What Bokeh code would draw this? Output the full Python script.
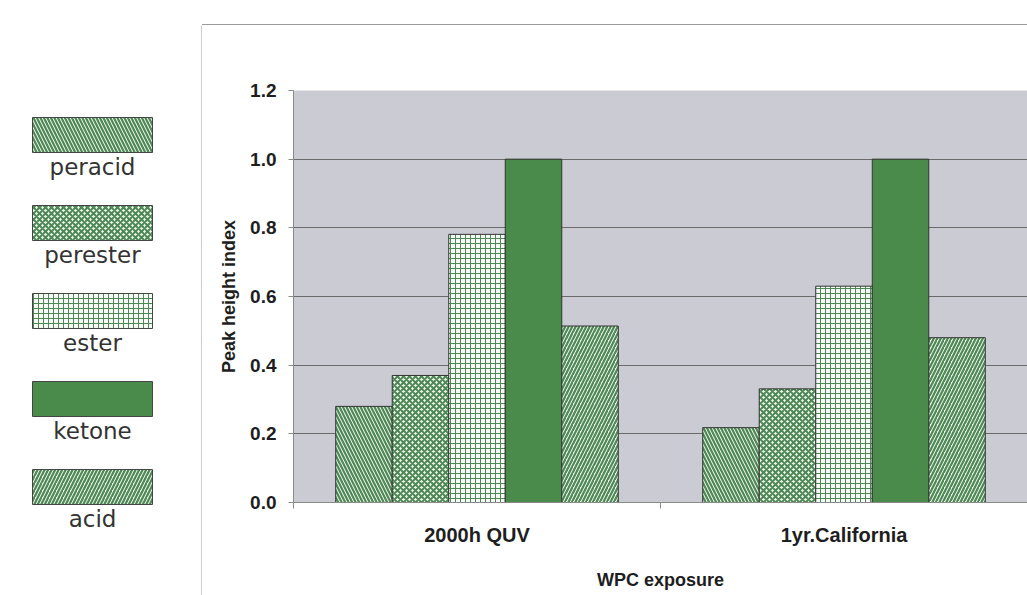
from bokeh.plotting import figure
from bokeh.models import Range1d, FixedTicker, ColumnDataSource, Spacer, NumeralTickFormatter
from bokeh.layouts import row, column
from bokeh.core.properties import value
from bokeh.embed import file_html
from bokeh.resources import INLINE

# ---------------- data ----------------
categories = ["2000h QUV", "1yr.California"]
series = ["peracid", "perester", "ester", "ketone", "acid"]
peracid = [0.280, 0.218]
perester = [0.370, 0.331]
ester = [0.781, 0.630]
ketone = [1.000, 1.000]
acid = [0.514, 0.480]
values = [peracid, perester, ester, ketone, acid]
y_ticks = [0.0, 0.2, 0.4, 0.6, 0.8, 1.0, 1.2]
x_title = "WPC exposure"
y_title = "Peak height index"

# ---------------- styles ----------------
LIGHT = "#eef9ec"
HATCH = "#4f8757"
KETONE = "#4a8b4c"
styles = {
    "peracid": dict(fill_color=LIGHT, hatch_pattern="\\", hatch_color=HATCH, hatch_scale=7, hatch_weight=2.2),
    "perester": dict(fill_color=LIGHT, hatch_pattern="x", hatch_color=HATCH, hatch_scale=6, hatch_weight=2),
    "ester": dict(fill_color="#f6fcf5", hatch_pattern="+", hatch_color=HATCH, hatch_scale=5, hatch_weight=1),
    "ketone": dict(fill_color=KETONE),
    "acid": dict(fill_color=LIGHT, hatch_pattern="/", hatch_color=HATCH, hatch_scale=7, hatch_weight=2.2),
}
BAR_W = 0.154
BOLD = "Liberation Sans"

# ---------------- main chart ----------------
p = figure(width=825, height=570, output_backend="svg", toolbar_location=None,
           x_range=Range1d(0, len(categories)), y_range=Range1d(0, 1.2),
           min_border_left=91, min_border_top=65, min_border_bottom=93, min_border_right=0)
p.background_fill_color = "#cbcbd3"
p.border_fill_color = "white"
p.outline_line_color = None

centers = [i + 0.5 for i in range(len(categories))]
for k, name in enumerate(series):
    xs = [c + (k - (len(series) - 1) / 2) * BAR_W for c in centers]
    src = ColumnDataSource(dict(x=xs, top=values[k], cat=categories))
    p.vbar(x="x", top="top", bottom=0, width=BAR_W, source=src,
           line_color="#333333", line_width=1, **styles[name])

# y axis
p.yaxis.ticker = FixedTicker(ticks=y_ticks, minor_ticks=[])
p.yaxis.formatter = NumeralTickFormatter(format="0.0")
p.yaxis.axis_line_color = "#8a8a8a"
p.yaxis.major_tick_line_color = "#8a8a8a"
p.yaxis.major_tick_out = 5
p.yaxis.major_tick_in = 0
p.yaxis.major_label_text_font = BOLD
p.yaxis.major_label_text_font_style = "bold"
p.yaxis.major_label_text_font_size = "19px"
p.yaxis.major_label_text_color = "#1e1e1e"
p.yaxis.major_label_standoff = 12
p.yaxis.axis_label = y_title
p.yaxis.axis_label_text_font = BOLD
p.yaxis.axis_label_text_font_style = "bold"
p.yaxis.axis_label_text_font_size = "18px"
p.yaxis.axis_label_text_color = "#1e1e1e"
p.yaxis.axis_label_standoff = 8

# x axis: labels at category centres, ticks at boundaries
p.xaxis.ticker = FixedTicker(ticks=centers, minor_ticks=list(range(len(categories) + 1)))
p.xaxis.major_label_overrides = {c: lab for c, lab in zip(centers, categories)}
p.xaxis.axis_line_color = "#8a8a8a"
p.xaxis.major_tick_line_color = None
p.xaxis.major_tick_out = 0
p.xaxis.major_tick_in = 0
p.xaxis.minor_tick_line_color = "#8a8a8a"
p.xaxis.minor_tick_out = 6
p.xaxis.minor_tick_in = 0
p.xaxis.major_label_text_font = BOLD
p.xaxis.major_label_text_font_style = "bold"
p.xaxis.major_label_text_font_size = "20px"
p.xaxis.major_label_text_color = "#1e1e1e"
p.xaxis.major_label_standoff = 15
p.xaxis.axis_label = x_title
p.xaxis.axis_label_text_font = BOLD
p.xaxis.axis_label_text_font_style = "bold"
p.xaxis.axis_label_text_font_size = "18px"
p.xaxis.axis_label_text_color = "#1e1e1e"
p.xaxis.axis_label_standoff = 21

p.xgrid.grid_line_color = None
p.ygrid.grid_line_color = "#6a6a6a"
p.ygrid.grid_line_width = 1

# ---------------- legend panel ----------------
lg = figure(width=202, height=595, output_backend="svg", toolbar_location=None,
            x_range=Range1d(0, 202), y_range=Range1d(595, 0),
            min_border=0, outline_line_color=None)
lg.axis.visible = False
lg.grid.visible = False
lg.background_fill_color = "white"
lg.border_fill_color = "white"

TOP0, STEP, SW_H = 117, 88, 35
for k, name in enumerate(series):
    top = TOP0 + k * STEP
    src = ColumnDataSource(dict(l=[32], r=[152], t=[top], b=[top + SW_H]))
    lg.quad(left="l", right="r", top="t", bottom="b", source=src,
            line_color="#444444", line_width=1, **styles[name])
lab_src = ColumnDataSource(dict(x=[92] * len(series),
                                y=[TOP0 + k * STEP + SW_H + 14 for k in range(len(series))],
                                t=series))
lg.text(x="x", y="y", text="t", source=lab_src, text_font=value("DejaVu Sans"),
        text_font_size="23px", text_color="#333333", text_align="center",
        text_baseline="alphabetic")
# chart-area frame left edge
lg.segment(x0=[201.5], y0=[25], x1=[201.5], y1=[595], line_color="#9a9a9a", line_width=1)

right = column(Spacer(width=825, height=24),
               Spacer(width=825, height=1, styles={"background-color": "#9a9a9a"}),
               p, spacing=0)
layout = row(lg, right, spacing=0)

open("out.html", "w").write(file_html(layout, INLINE))
